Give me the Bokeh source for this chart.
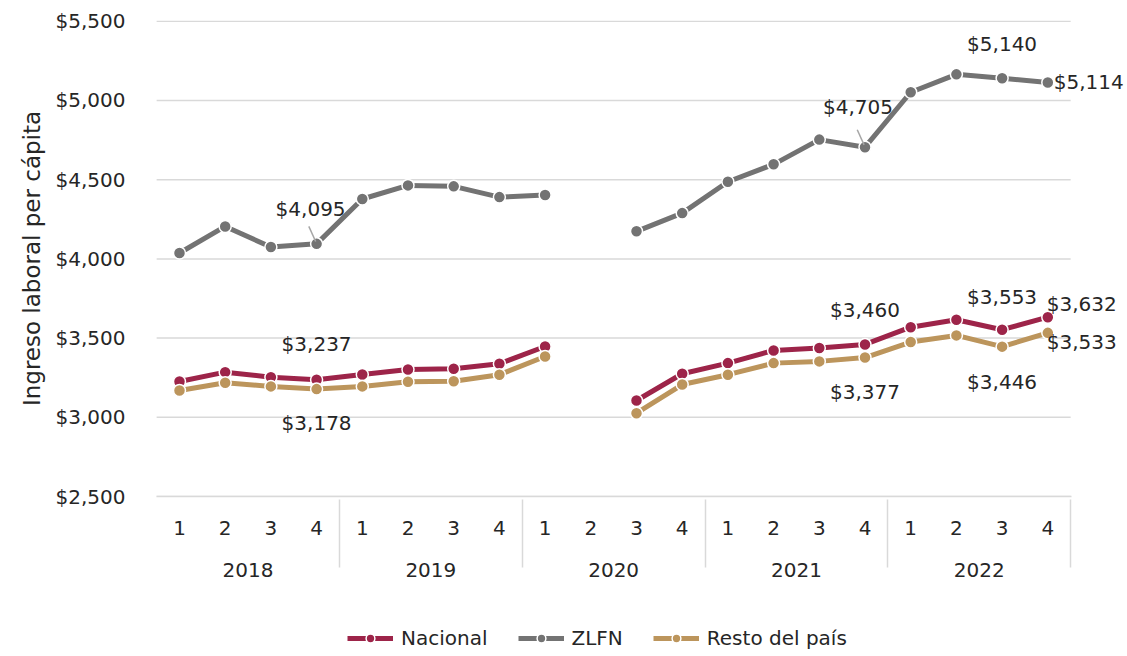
from bokeh.plotting import figure
from bokeh.layouts import column
from bokeh.models import (FactorRange, ColumnDataSource, NumeralTickFormatter, Legend,
                          LegendItem, Range1d, FixedTicker, LabelSet)
from bokeh.embed import file_html
from bokeh.resources import INLINE
from bokeh.core.properties import value

nan = float("nan")

years = ["2018", "2019", "2020", "2021", "2022"]
quarters = ["1", "2", "3", "4"]

nacional = [3226, 3285, 3253, 3237, 3270, 3302, 3306, 3338, 3447, nan, 3106, 3275,
            3342, 3422, 3437, 3460, 3569, 3616, 3553, 3632]
zlfn = [4037, 4205, 4075, 4095, 4378, 4464, 4458, 4390, 4403, nan, 4174, 4289,
        4487, 4597, 4753, 4705, 5052, 5165, 5140, 5114]
resto = [3169, 3218, 3195, 3178, 3195, 3224, 3228, 3269, 3384, nan, 3026, 3207,
         3269, 3342, 3353, 3377, 3475, 3517, 3446, 3533]

y_ticks = [2500, 3000, 3500, 4000, 4500, 5000, 5500]

series_names = ["Nacional", "ZLFN", "Resto del país"]

# indices of the labelled points
labelled = [3, 15, 18, 19]

FONT = "DejaVu Sans"
TXT = "#262626"
GRID = "#d9d9d9"
C_NAC = "#9D2449"
C_ZL = "#737373"
C_RES = "#BC955C"

# quarter labels get a trailing blank line so the year row sits lower
factors = [(y, q + "\n") for y in years for q in quarters]
# an empty trailing group leaves room for the right-hand data labels
axis_factors = factors + [(" ", " ")]

p = figure(frame_width=978, frame_height=476, output_backend="svg", toolbar_location=None,
           x_range=FactorRange(*axis_factors, factor_padding=0, group_padding=0,
                               subgroup_padding=0, range_padding=0.2,
                               range_padding_units="absolute"),
           y_range=Range1d(2500, 5505),
           min_border_left=147, min_border_right=1, min_border_top=20,
           min_border_bottom=125)
p.outline_line_color = None
p.xgrid.grid_line_color = None
p.ygrid.grid_line_color = None

p.yaxis.ticker = FixedTicker(ticks=y_ticks)
p.yaxis.formatter = NumeralTickFormatter(format="$0,0")
p.yaxis.axis_line_color = None
p.yaxis.major_tick_line_color = None
p.yaxis.minor_tick_line_color = None
p.yaxis.major_label_standoff = 16
p.yaxis.major_label_text_font = FONT
p.yaxis.major_label_text_font_size = "20px"
p.yaxis.major_label_text_color = TXT
p.yaxis.axis_label = "Ingreso laboral per cápita"
p.yaxis.axis_label_text_font = FONT
p.yaxis.axis_label_text_font_size = "23px"
p.yaxis.axis_label_text_font_style = "normal"
p.yaxis.axis_label_text_color = TXT
p.yaxis.axis_label_standoff = 8

xa = p.xaxis[0]
xa.bounds = (0, 20.02)
xa.axis_line_color = GRID
xa.axis_line_width = 1.5
xa.major_tick_line_color = None
xa.minor_tick_line_color = None
xa.major_label_text_font = FONT
xa.major_label_text_font_size = "20px"
xa.major_label_text_color = TXT
xa.major_label_text_line_height = 0.3
xa.major_label_standoff = 13
xa.group_text_font = FONT
xa.group_text_font_size = "20px"
xa.group_text_color = TXT
xa.group_text_font_style = "normal"
xa.separator_line_color = GRID
xa.separator_line_width = 1.5

# horizontal grid lines spanning only the real categories
grid = ColumnDataSource(data=dict(
    x0=[factors[0] + (-0.5,)] * len(y_ticks),
    x1=[factors[-1] + (0.5,)] * len(y_ticks),
    y=y_ticks))
p.segment("x0", "y", "x1", "y", source=grid, line_color=GRID, line_width=1.5)

src = ColumnDataSource(data=dict(x=factors, nac=nacional, zl=zlfn, res=resto))

styles = [("nac", C_NAC), ("zl", C_ZL), ("res", C_RES)]
for key, col in styles:
    p.line("x", key, source=src, line_color=col, line_width=5)
    p.scatter("x", key, source=src, size=12, fill_color=col, line_color="white",
              line_width=1.5)

# data labels (offsets in screen pixels, positive = upward)
lx, ly, lt, dx, dy, al = [], [], [], [], [], []
def add(series, idx, ox, oy, align="center"):
    v = series[idx]
    lx.append(factors[idx]); ly.append(v); lt.append(f"${v:,.0f}")
    dx.append(ox); dy.append(oy); al.append(align)

for idx, (oz, on, orr) in zip(labelled, [((-6, 35), (0, 36), (0, -34)),
                                         ((-7, 40), (0, 34), (0, -34)),
                                         ((0, 34), (0, 33), (0, -35)),
                                         ((6, 0), (-1, 13), (-1, -9))]):
    a = "left" if idx == 19 else "center"
    add(zlfn, idx, oz[0], oz[1], a)
    add(nacional, idx, on[0], on[1], a)
    add(resto, idx, orr[0], orr[1], a)

lab = ColumnDataSource(data=dict(x=lx, y=ly, t=lt, dx=dx, dy=dy, al=al))
p.add_layout(LabelSet(x="x", y="y", text="t", source=lab, x_offset="dx", y_offset="dy",
                      text_align="al", text_baseline="middle", text_font=value(FONT),
                      text_font_size="20px", text_color=TXT))

# leader lines for two ZLFN labels
lead = ColumnDataSource(data=dict(
    x0=[factors[3] + (-0.17,), factors[15] + (-0.17,)],
    x1=[factors[3] + (-0.02,), factors[15] + (-0.02,)],
    y0=[zlfn[3] + 110, zlfn[15] + 110],
    y1=[zlfn[3] + 15, zlfn[15] + 15]))
p.segment("x0", "y0", "x1", "y1", source=lead, line_color="#a6a6a6", line_width=1.5)

# legend strip below the chart (its renderers hold one point outside the view)
lf = figure(width=1126, height=35, output_backend="svg", toolbar_location=None,
            x_range=Range1d(0, 1), y_range=Range1d(0, 1), min_border=0,
            x_axis_location=None, y_axis_location=None)
lf.outline_line_color = None
lf.grid.visible = False
items = []
for (key, col), name in zip(styles, series_names):
    r1 = lf.line([-5, -4], [-5, -5], line_color=col, line_width=5)
    r2 = lf.scatter([-5], [-5], size=12, fill_color=col, line_color="white",
                    line_width=1.5)
    items.append(LegendItem(label=name, renderers=[r1, r2]))

legend = Legend(items=items, orientation="horizontal", location=(200, 6))
legend.label_text_font = FONT
legend.label_text_font_size = "20px"
legend.label_text_color = TXT
legend.glyph_width = 46
legend.glyph_height = 22
legend.label_height = 22
legend.spacing = 30
legend.label_standoff = 8
legend.border_line_color = None
legend.background_fill_alpha = 0
legend.padding = 0
legend.margin = 0
lf.add_layout(legend)

layout = column(p, lf, spacing=0)
open("out.html", "w").write(file_html(layout, INLINE))
